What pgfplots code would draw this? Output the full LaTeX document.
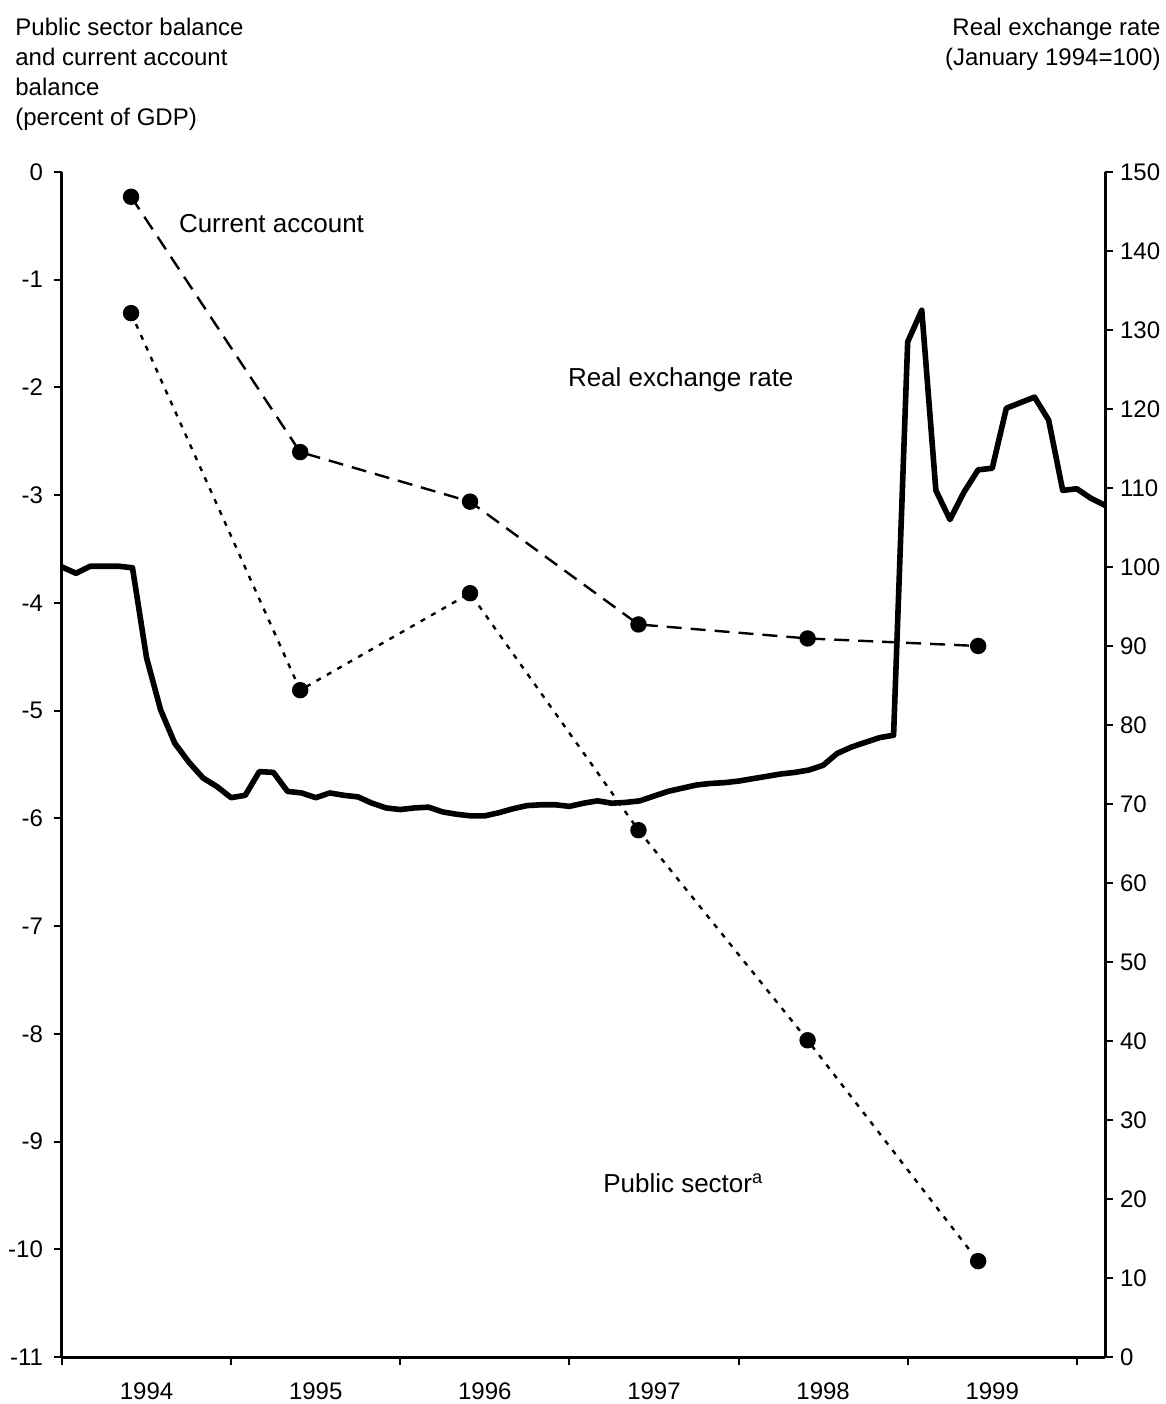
\documentclass[border=0pt]{standalone}
\usepackage{pgfplots}
\pgfplotsset{compat=1.18}
\usepackage{fontspec}
\setmainfont{Liberation Sans}

% real exchange rate, monthly, m = months since January 1994
\pgfplotstableread{
m rer
0 100
1 99.2
2 100.1
3 100.1
4 100.1
5 99.9
6 88.5
7 81.9
8 77.7
9 75.3
10 73.3
11 72.2
12 70.8
13 71.1
14 74.1
15 74.0
16 71.6
17 71.4
18 70.8
19 71.4
20 71.1
21 70.9
22 70.1
23 69.5
24 69.3
25 69.5
26 69.6
27 69.0
28 68.7
29 68.5
30 68.5
31 68.9
32 69.4
33 69.8
34 69.9
35 69.9
36 69.7
37 70.1
38 70.4
39 70.1
40 70.2
41 70.4
42 71.0
43 71.6
44 72.0
45 72.4
46 72.6
47 72.7
48 72.9
49 73.2
50 73.5
51 73.8
52 74.0
53 74.3
54 74.9
55 76.4
56 77.2
57 77.8
58 78.4
59 78.7
60 128.5
61 132.5
62 109.7
63 106.0
64 109.5
65 112.3
66 112.5
67 120.1
68 120.8
69 121.5
70 118.6
71 109.7
72 109.9
73 108.7
74 107.8
}\rertable

% yearly balances, percent of GDP
\pgfplotstableread{
m ca ps
4.9 -0.23 -1.31
16.9 -2.60 -4.81
28.95 -3.06 -3.91
40.9 -4.20 -6.11
52.9 -4.33 -8.06
65.0 -4.40 -10.11
}\baltable

\begin{document}
\begin{tikzpicture}
\useasboundingbox (-31pt,-23.5pt) rectangle (552pt,678.5pt);
\pgfplotsset{
  base/.style={
    width=521.5pt, height=592.5pt, scale only axis,
    at={(0,0)}, anchor=south west,
    xmin=0, xmax=74,
    axis line style={line width=1.5pt},
    tick style={line width=1pt, black},
    major tick length=4pt,
    tick align=outside,
    ticklabel style={font=\fontsize{12}{14}\selectfont},
    /pgf/number format/assume math mode=true,
  },
}

\begin{axis}[base,
  axis x line*=bottom, axis y line*=left,
  ymin=-11, ymax=0, ytick={-11,-10,...,0},
  xtick={0,12,24,36,48,60,72},
  xticklabels={1994,1995,1996,1997,1998,1999},
  x tick label as interval,
  xticklabel style={yshift=-5.5pt},
  yticklabel style={xshift=-2pt},
]
\addplot[black, line width=1.2pt, dash pattern=on 7.5pt off 4.5pt,
  mark=*, mark size=3.5pt, mark options={solid}]
  table[x=m, y=ca] {\baltable};
\addplot[black, line width=1.2pt, dash pattern=on 2.5pt off 3.5pt,
  mark=*, mark size=3.5pt, mark options={solid}]
  table[x=m, y=ps] {\baltable};
\node[anchor=base west, font=\fontsize{13}{15}\selectfont] at (axis cs:7.8,-0.566) {Current account};
\node[anchor=base west, font=\fontsize{13}{15}\selectfont] at (axis cs:35.4,-1.99) {Real exchange rate};
\node[anchor=base west, font=\fontsize{13}{15}\selectfont] at (axis cs:37.9,-9.47) {Public sector\textsuperscript{a}};
\end{axis}

\begin{axis}[base,
  axis x line=none, axis y line*=right,
  ymin=0, ymax=150, ytick={0,10,...,150},
]
\addplot[black, line width=2.8pt, line join=round] table[x=m, y=rer] {\rertable};
\end{axis}

\node[anchor=north west, align=left, inner sep=0pt,
  font=\fontsize{12}{15}\selectfont] at (-23.5pt,669.5pt)
  {Public sector balance\\and current account\\balance\\(percent of GDP)};
\node[anchor=north east, align=right, inner sep=0pt,
  font=\fontsize{12}{15}\selectfont] at (549.5pt,669.5pt)
  {Real exchange rate\\(January 1994=100)};
\end{tikzpicture}
\end{document}
